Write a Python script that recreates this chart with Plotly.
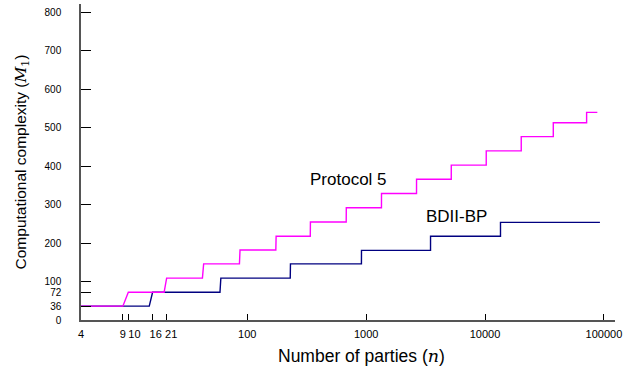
import plotly.graph_objects as go

# ---- data ----
# step start positions (number of parties) and level values
p5_start_n = [4, 10, 21, 43, 87, 175, 340, 681, 1347, 2655, 5200, 10235, 20160, 37500, 71500]
p5_levels = [36, 72, 109, 146, 182, 218, 255, 292, 329, 366, 403, 440, 477, 513, 540]
p5_end_n = 88000

bd_start_n = [4, 16, 60, 231, 914, 3481, 13490]
bd_levels = [36, 72, 109, 146, 181, 218, 254]
bd_end_n = 92500

NB = "\u00a0"
x_tickvals = [4, 9, 10, 16, 21, 100, 1000, 10000, 100000]
x_ticktext = ["4", "9", NB * 4 + "10", NB * 2 + "16", NB * 3 + "21", "100", "1000", "10000", "100000"]
y_tickvals = [0, 36, 72, 100, 200, 300, 400, 500, 600, 700, 800]
y_ticktext = ["0", "36", "72", "100", "200", "300", "400", "500", "600", "700", "800"]


def step_xy(starts, levels, end):
    xs, ys = [], []
    for i, (s, v) in enumerate(zip(starts, levels)):
        xs.append(s)
        ys.append(v)
        nxt = starts[i + 1] if i + 1 < len(starts) else end + 1
        xs.append(nxt - 1)
        ys.append(v)
    return xs, ys


px, py = step_xy(p5_start_n, p5_levels, p5_end_n)
bx, by = step_xy(bd_start_n, bd_levels, bd_end_n)

FONT = "Liberation Sans, Arial, sans-serif"

fig = go.Figure()
fig.add_trace(go.Scatter(x=bx, y=by, mode="lines", name="BDII-BP",
                         line=dict(color="#000080", width=1.4)))
fig.add_trace(go.Scatter(x=px, y=py, mode="lines", name="Protocol 5",
                         line=dict(color="#FF00FF", width=1.4)))

fig.add_annotation(x=2.8545, y=366, xref="x", yref="y", text="Protocol 5",
                   showarrow=False, font=dict(family=FONT, size=17, color="black"))
fig.add_annotation(x=3.7587, y=270, xref="x", yref="y", text="BDII-BP",
                   showarrow=False, font=dict(family=FONT, size=17, color="black"))
# x-axis title (placed as in the reference, slightly right of the plot centre)
fig.add_annotation(x=0.526, y=-0.115, xref="paper", yref="paper", yanchor="middle",
                   text="Number of parties (<span style='font-family:DejaVu Serif'><i>n</i></span>)",
                   showarrow=False, font=dict(family=FONT, size=17.5, color="black"))

fig.update_layout(
    width=625, height=372,
    margin=dict(l=81, r=10, t=4, b=52),
    paper_bgcolor="white", plot_bgcolor="white",
    showlegend=False,
    font=dict(family=FONT, color="black"),
)

fig.update_xaxes(
    type="log", range=[0.60206, 5.093],
    tickvals=x_tickvals, ticktext=x_ticktext, tickangle=0,
    ticks="inside", ticklen=6, tickwidth=1, tickcolor="black",
    showline=True, linecolor="#555555", linewidth=1.5,
    showgrid=False, zeroline=False, automargin=False,
    tickfont=dict(family=FONT, size=11, color="black"),
    ticklabelstandoff=3,
)
fig.update_yaxes(
    range=[0, 822],
    tickvals=y_tickvals, ticktext=y_ticktext,
    ticks="inside", ticklen=10, tickwidth=1, tickcolor="black",
    showline=True, linecolor="#555555", linewidth=1.5,
    showgrid=False, zeroline=False, automargin=False,
    tickfont=dict(family=FONT, size=10, color="black"),
    ticklabelstandoff=16,
    title=dict(text="Computational complexity (<span style='font-family:DejaVu Serif'><i>M</i><sub>1</sub></span>)",
               font=dict(family=FONT, size=15.5, color="black"), standoff=14),
)

fig.write_html("out.html", config={"displayModeBar": False},
               post_script="document.body.style.margin='0';document.body.style.padding='0';")
